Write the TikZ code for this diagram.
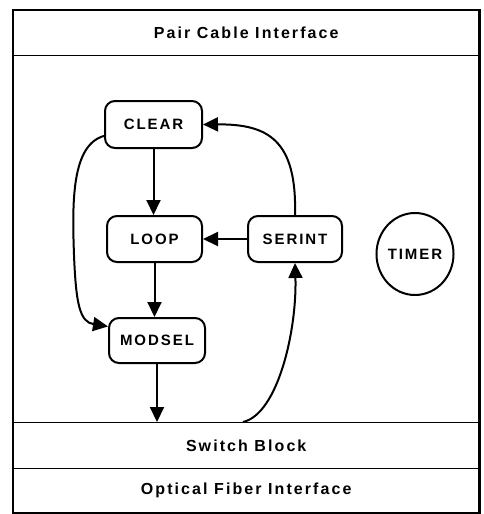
\documentclass[tikz,border=0pt]{standalone}
\usepackage{fontspec}
\setmainfont{Liberation Sans}[LetterSpace=13]
\usetikzlibrary{arrows.meta,shapes.geometric}
\tikzset{
  lbl/.style={font=\bfseries\fontsize{15}{17}\selectfont, inner sep=0pt},
  band/.style={lbl, font=\bfseries\fontsize{16}{18}\selectfont, draw, line width=1.4pt, minimum width=465pt, anchor=north west},
  proc/.style={lbl, draw, line width=2pt, rounded corners=10pt},
  arr/.style={line width=2pt, -{Triangle[length=15pt,width=14pt]}},
}
\begin{document}
\begin{tikzpicture}[x=1pt,y=-1pt]
\useasboundingbox (0,0) rectangle (484,514);
\node[band, minimum height=45pt] (pair) at (13,10) {Pair Cable Interface};
\node[band, minimum height=46pt] (switch) at (13,422) {Switch Block};
\node[band, minimum height=44pt] (optical) at (13,468) {Optical Fiber Interface};
\draw[line width=2.5pt] (pair.north west) rectangle (optical.south east);

\node[proc, minimum width=97pt, minimum height=47pt] (clear) at (153.5,124.5) {CLEAR};
\node[proc, minimum width=95pt, minimum height=46pt] (loop) at (154.5,239) {LOOP};
\node[proc, minimum width=94pt, minimum height=46pt] (serint) at (295,239) {SERINT};
\node[proc, minimum width=96pt, minimum height=45pt] (modsel) at (157,340.5) {MODSEL};
\node[lbl, draw, ellipse, line width=2pt, minimum width=66pt, minimum height=82pt] (timer) at (415,254) {TIMER};

\coordinate (s0) at (243,422);

\draw[arr] (clear.south) -- (clear.south |- loop.north);
\draw[arr] (loop.south) -- (loop.south |- modsel.north);
\draw[arr] (modsel.south) -- (modsel.south |- switch.north);
\draw[arr] (serint.west) -- (loop.east);
\draw[arr] (s0) .. controls (278,414) and (297,330) .. (serint.south);
\draw[arr] (serint.north) .. controls (297,140) and (268,124) .. (clear.east);
\draw[arr] (clear.193) .. controls (72,145) and (72,200) .. (74,255)
  .. controls (76,305) and (80,322) .. (modsel.164);
\end{tikzpicture}
\end{document}
